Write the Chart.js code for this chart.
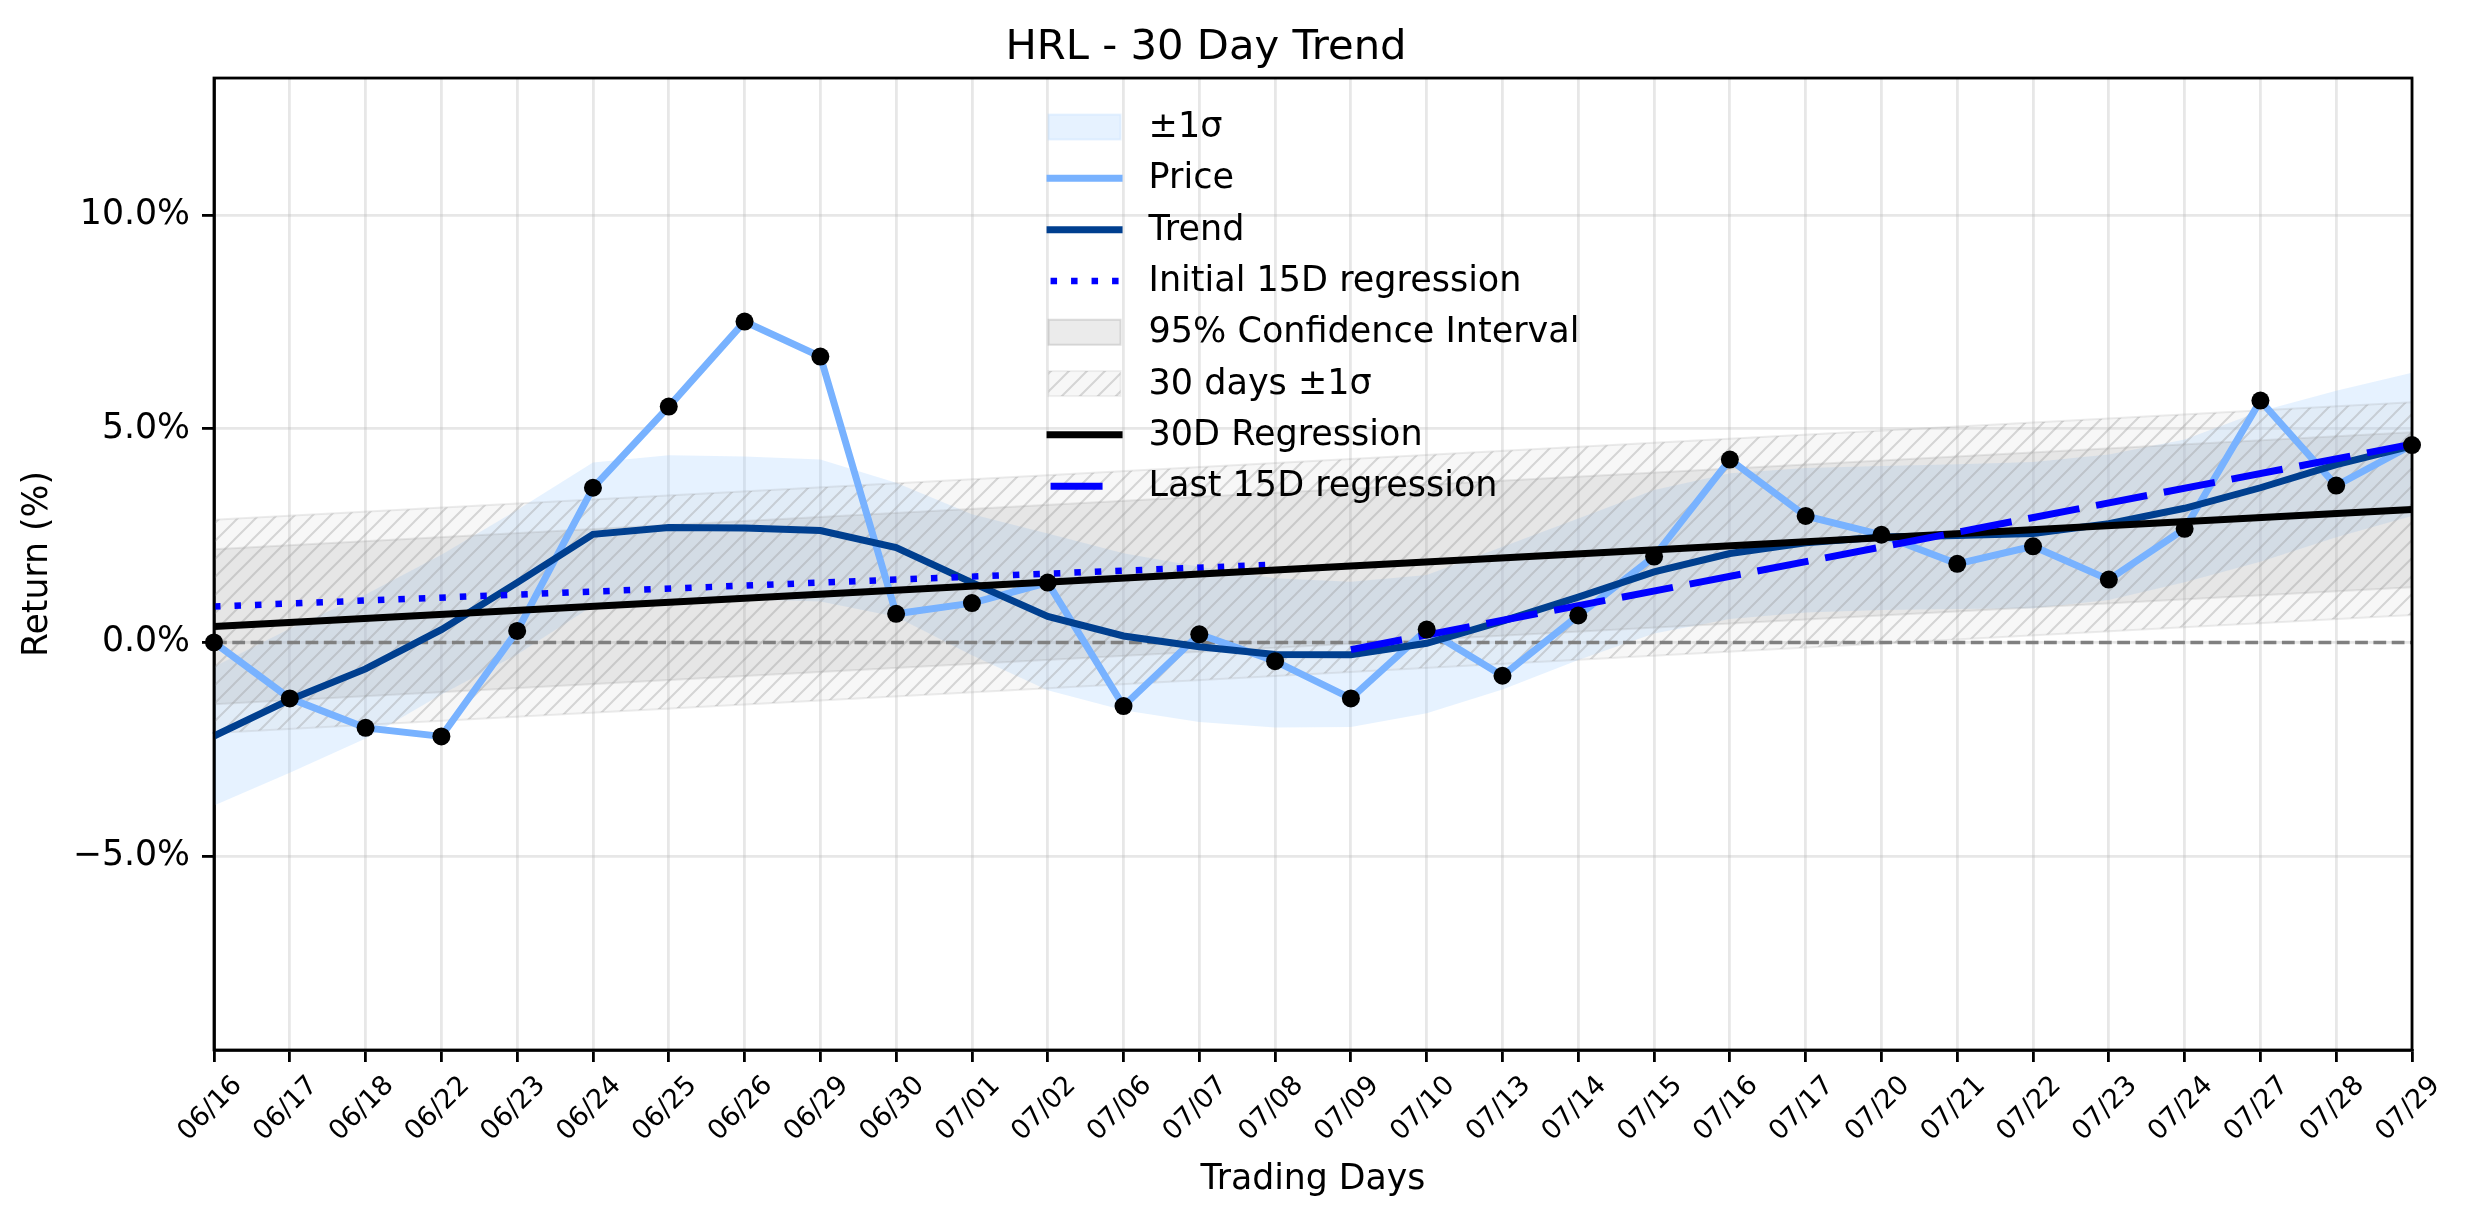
<!DOCTYPE html>
<html>
<head>
<meta charset="utf-8">
<title>HRL - 30 Day Trend</title>
<script src="https://cdn.jsdelivr.net/npm/chart.js@4.4.0/dist/chart.umd.min.js"></script>
<style>
    body{margin:0;background:#fff;}
    canvas{display:block;}
</style>
</head>
<body>
<canvas id="grafico" width="2474" height="1224"></canvas>
<script>
// datos (retorno en %)
const dias = ['06/16','06/17','06/18','06/22','06/23','06/24','06/25','06/26','06/29','06/30',
    '07/01','07/02','07/06','07/07','07/08','07/09','07/10','07/13','07/14','07/15',
    '07/16','07/17','07/20','07/21','07/22','07/23','07/24','07/27','07/28','07/29'];

const precio = [0.00,-1.31,-2.00,-2.20,0.27,3.62,5.52,7.51,6.69,0.67,
    0.92,1.40,-1.49,0.19,-0.44,-1.31,0.30,-0.78,0.63,2.01,
    4.28,2.96,2.52,1.84,2.25,1.47,2.66,5.66,3.67,4.62];

const tendencia = [-2.19,-1.34,-0.62,0.30,1.40,2.53,2.69,2.68,2.62,2.22,
    1.40,0.61,0.15,-0.10,-0.28,-0.29,-0.02,0.50,1.06,1.65,
    2.08,2.33,2.47,2.50,2.55,2.78,3.14,3.62,4.16,4.60];

const sigmaSup = [-0.57,0.32,1.12,2.05,3.10,4.21,4.38,4.35,4.28,3.74,
    3.00,2.55,2.09,1.77,1.50,1.42,1.58,2.24,2.90,3.57,
    3.96,4.08,4.13,4.17,4.22,4.40,4.75,5.41,5.89,6.31];
const sigmaInf = [-3.82,-3.05,-2.25,-1.22,-0.28,0.86,1.02,1.01,0.96,0.60,
    -0.30,-1.12,-1.59,-1.86,-1.99,-1.98,-1.66,-1.10,-0.41,0.21,
    0.55,0.70,0.76,0.78,0.80,0.99,1.41,1.89,2.46,2.96];

// rectas: valor al inicio y al final de su tramo
const reg30 = [0.37, 3.11];
const regInicial = [0.84, 1.82];
const regFinal = [-0.17, 4.64];
const confSup = [2.18, 4.92];
const confInf = [-1.45, 1.29];
const desv30Sup = [2.87, 5.62];
const desv30Inf = [-2.12, 0.64];
const base = [0, 0];

const yTicks = [-5, 0, 5, 10];
const yMin = -9.54, yMax = 13.21;

Chart.defaults.font.family = '"DejaVu Sans", sans-serif';
Chart.defaults.color = '#000';

const tramo = (desde, hasta, valores) => [
    {x: dias[desde], y: valores[0]},
    {x: dias[hasta], y: valores[1]}
];

const crearTrama = () => {
    const lado = 18;
    const c = document.createElement('canvas');
    c.width = lado; c.height = lado;
    const g = c.getContext('2d');
    g.fillStyle = 'rgba(200,200,200,0.14)';
    g.fillRect(0, 0, lado, lado);
    g.strokeStyle = 'rgba(150,150,150,0.35)';
    g.lineWidth = 2;
    g.beginPath();
    g.moveTo(0, lado); g.lineTo(lado, 0);
    g.moveTo(-lado/2, lado/2); g.lineTo(lado/2, -lado/2);
    g.moveTo(lado/2, lado*1.5); g.lineTo(lado*1.5, lado/2);
    g.stroke();
    return g.createPattern(c, 'repeat');
};

// marco completo del area del grafico
const marco = {
    id: 'marco',
    afterDatasetsDraw(chart){
        const {ctx, chartArea: a} = chart;
        ctx.save();
        ctx.strokeStyle = '#000';
        ctx.lineWidth = 2.8;
        ctx.strokeRect(a.left, a.top, a.right - a.left, a.bottom - a.top);
        ctx.restore();
    }
};

// leyenda estilo matplotlib dentro del area (arriba al centro)
const leyenda = {
    id: 'leyenda',
    afterDraw(chart){
        const {ctx, chartArea: a} = chart;
        const items = chart.data.datasets.filter(d => d.leyenda !== undefined)
            .sort((p, q) => p.leyenda - q.leyenda);
        ctx.save();
        ctx.font = '35px "DejaVu Sans"';
        const anchoTexto = Math.max(...items.map(d => ctx.measureText(d.label).width));
        const largo = 76, hueco = 26, paso = 51.3;
        const x0 = (a.left + a.right) / 2 - (largo + hueco + anchoTexto) / 2;
        let y = a.top + 49;
        for (const d of items) {
            if (d.tipo === 'banda') {
                ctx.fillStyle = d.backgroundColor;
                ctx.fillRect(x0 + 2, y - 12.5, largo - 4, 25);
                ctx.strokeStyle = d.bordeLeyenda;
                ctx.lineWidth = 2;
                ctx.strokeRect(x0 + 2, y - 12.5, largo - 4, 25);
            } else {
                ctx.strokeStyle = d.borderColor;
                ctx.lineWidth = d.borderWidth;
                ctx.lineCap = 'butt';
                ctx.setLineDash(d.borderDash || []);
                ctx.beginPath();
                ctx.moveTo(x0 + (d.borderDash ? 4 : 0), y);
                ctx.lineTo(x0 + (d.borderDash ? 72 : largo), y);
                ctx.stroke();
                ctx.setLineDash([]);
            }
            ctx.fillStyle = '#000';
            ctx.textBaseline = 'middle';
            ctx.textAlign = 'left';
            ctx.fillText(d.label, x0 + largo + hueco, y + 1);
            y += paso;
        }
        ctx.restore();
    }
};

const trama = crearTrama();
const ultimo = dias.length - 1;

const datasets = [
    {label: '±1σ', data: sigmaSup, fill: '+1', backgroundColor: 'rgba(150,200,255,0.24)',
     borderWidth: 0, pointRadius: 0, order: 12, leyenda: 0, tipo: 'banda', bordeLeyenda: 'rgba(150,200,255,0.2)'},
    {label: 'sigma inf', data: sigmaInf, fill: false, borderWidth: 0, pointRadius: 0, order: 12},

    {label: '95% Confidence Interval', data: tramo(0, ultimo, confSup), fill: '+1',
     backgroundColor: 'rgba(128,128,128,0.16)', borderColor: 'rgba(128,128,128,0.18)', borderWidth: 2,
     pointRadius: 0, order: 11, leyenda: 4, tipo: 'banda', bordeLeyenda: 'rgba(128,128,128,0.25)'},
    {label: 'conf inf', data: tramo(0, ultimo, confInf), fill: false,
     borderColor: 'rgba(128,128,128,0.18)', borderWidth: 2, pointRadius: 0, order: 11},

    {label: '30 days ±1σ', data: tramo(0, ultimo, desv30Sup), fill: '+1',
     backgroundColor: trama, borderColor: 'rgba(128,128,128,0.15)', borderWidth: 2,
     pointRadius: 0, order: 10, leyenda: 5, tipo: 'banda', bordeLeyenda: 'rgba(128,128,128,0.12)'},
    {label: 'desv inf', data: tramo(0, ultimo, desv30Inf), fill: false,
     borderColor: 'rgba(128,128,128,0.15)', borderWidth: 2, pointRadius: 0, order: 10},

    {label: 'cero', data: tramo(0, ultimo, base), borderColor: '#808080', borderWidth: 3.5,
     borderDash: [12.8, 5.5], pointRadius: 0, fill: false, order: 7},

    {label: 'Price', data: precio, borderColor: '#78b2ff', borderWidth: 7, pointRadius: 0,
     fill: false, order: 6, leyenda: 1},
    {label: 'Trend', data: tendencia, borderColor: '#003f8f', borderWidth: 7, pointRadius: 0,
     fill: false, order: 5, leyenda: 2},
    {label: 'Initial 15D regression', data: tramo(0, 14, regInicial), borderColor: '#0000ff',
     borderWidth: 6.5, borderDash: [6.5, 14], borderCapStyle: 'butt', pointRadius: 0,
     fill: false, order: 4, leyenda: 3},
    {label: '30D Regression', data: tramo(0, ultimo, reg30), borderColor: '#000', borderWidth: 7,
     pointRadius: 0, fill: false, order: 3, leyenda: 6},
    {label: 'Last 15D regression', data: tramo(15, ultimo, regFinal), borderColor: '#0000ff',
     borderWidth: 7, borderDash: [52, 17], borderCapStyle: 'butt', pointRadius: 0,
     fill: false, order: 2, leyenda: 7},

    {label: 'puntos', data: precio, showLine: false, pointRadius: 9, pointBackgroundColor: '#000',
     pointBorderWidth: 0, order: 1}
];

const config = {
    type: 'line',
    data: {labels: dias, datasets},
    options: {
        responsive: false,
        animation: false,
        events: [],
        elements: {line: {tension: 0}},
        layout: {padding: {left: 0, right: 62, top: 0, bottom: 0}},
        plugins: {
            legend: {display: false},
            tooltip: {enabled: false},
            filler: {propagate: false},
            title: {
                display: true,
                text: 'HRL - 30 Day Trend',
                color: '#000',
                font: {size: 41.7, weight: 'normal'},
                padding: {top: 23, bottom: 5}
            }
        },
        scales: {
            x: {
                type: 'category',
                offset: false,
                afterFit: s => { s.height = 174; },
                grid: {color: 'rgba(176,176,176,0.3)', lineWidth: 2.8, tickColor: '#000',
                       tickLength: 12, tickWidth: 2.8, offset: false},
                border: {display: true, color: '#000', width: 2.8},
                ticks: {autoSkip: false, minRotation: 45, maxRotation: 45, padding: 8,
                        labelOffset: 24, color: '#000', font: {size: 27}},
                title: {display: true, text: 'Trading Days', color: '#000',
                        font: {size: 34.7}, padding: {top: 0, bottom: 23}}
            },
            y: {
                min: yMin,
                max: yMax,
                afterFit: s => { s.width = 214; },
                afterBuildTicks: s => { s.ticks = yTicks.map(v => ({value: v})); },
                grid: {color: 'rgba(176,176,176,0.3)', lineWidth: 2.8, tickColor: '#000',
                       tickLength: 12, tickWidth: 2.8},
                border: {display: true, color: '#000', width: 2.8},
                ticks: {padding: 12, color: '#000', font: {size: 34.7},
                        callback: v => (v < 0 ? '\u2212' : '') + Math.abs(v).toFixed(1) + '%'},
                title: {display: true, text: 'Return (%)', color: '#000',
                        font: {size: 34.7}, padding: {top: 17, bottom: 0}}
            }
        }
    },
    plugins: [marco, leyenda]
};

const grafico = new Chart(document.getElementById('grafico'), config);
</script>
</body>
</html>
